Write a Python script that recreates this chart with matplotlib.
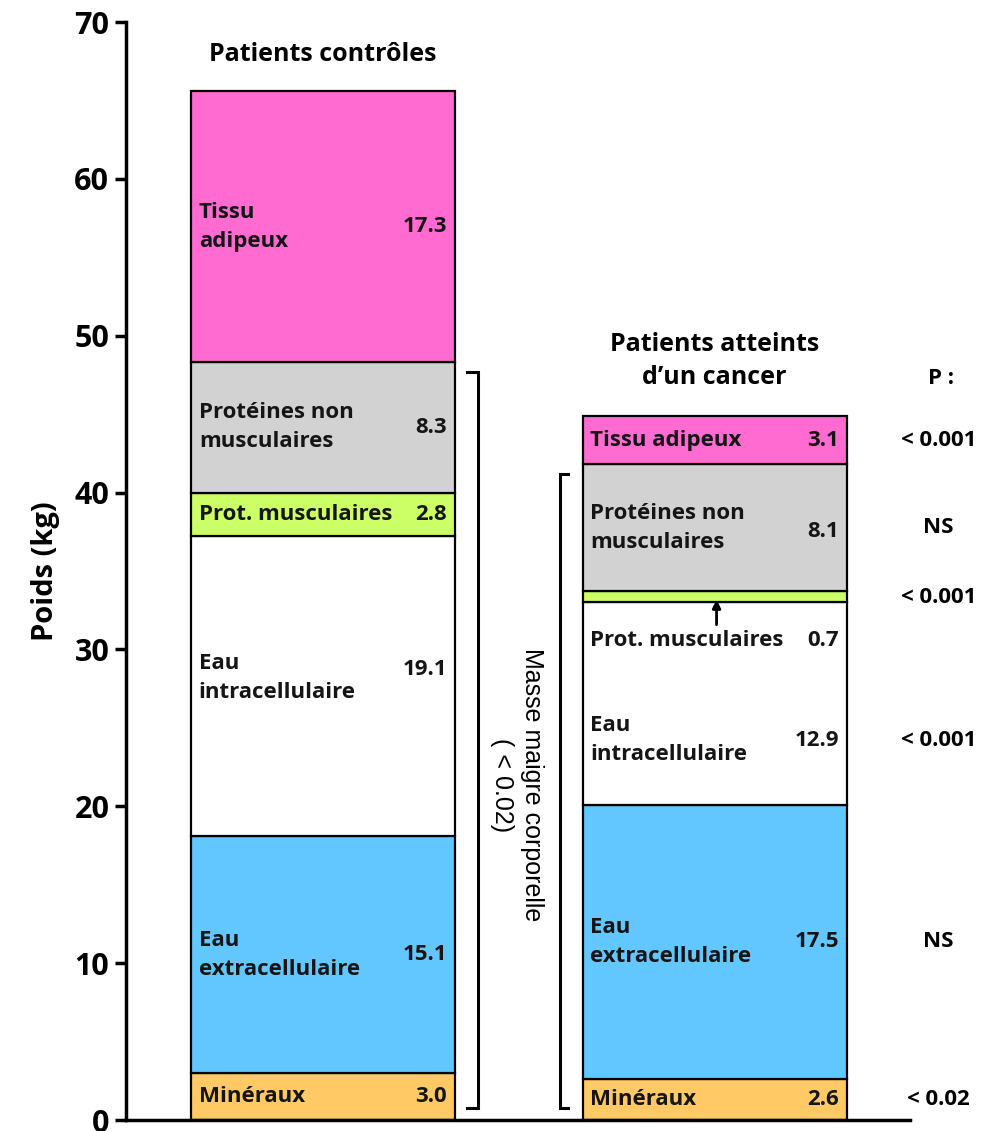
import numpy as np
import matplotlib.pyplot as plt

# composition corporelle (kg), du bas vers le haut
components = ['Minéraux', 'Eau extracellulaire', 'Eau intracellulaire',
              'Prot. musculaires', 'Protéines non musculaires', 'Tissu adipeux']
controls = [3.0, 15.1, 19.1, 2.8, 8.3, 17.3]
cancer = [2.6, 17.5, 12.9, 0.7, 8.1, 3.1]
colors = ['#FFC966', '#62C6FF', '#FFFFFF', '#CCFF66', '#D2D2D2', '#FF6BD0']

# libellés affichés dans chaque barre
labels_ctrl = ['Minéraux', 'Eau\nextracellulaire', 'Eau\nintracellulaire',
               'Prot. musculaires', 'Protéines non\nmusculaires', 'Tissu\nadipeux']
labels_canc = ['Minéraux', 'Eau\nextracellulaire', 'Eau\nintracellulaire',
               'Prot. musculaires', 'Protéines non\nmusculaires', 'Tissu adipeux']
p_values = ['< 0.02', 'NS', '< 0.001', '< 0.001', 'NS', '< 0.001']

bar_x = [0, 1]
yticks = [0, 10, 20, 30, 40, 50, 60, 70]

FONT = ['Open Sans', 'DejaVu Sans']
plt.rcParams['font.family'] = FONT

fig = plt.figure(figsize=(9.86, 11.31), dpi=100)
ax = fig.add_axes([126 / 986, 11 / 1131, 860 / 986, 1098 / 1131])

width = 0.674
off = 0.02
fs = 16
for xi, vals, labs in [(bar_x[0], controls, labels_ctrl), (bar_x[1], cancer, labels_canc)]:
    bottoms = np.concatenate([[0], np.cumsum(vals)[:-1]])
    ax.bar([xi] * len(vals), vals, width=width, bottom=bottoms, color=colors,
           edgecolor='black', linewidth=1.6, zorder=2)
    for i, (v, b, lab) in enumerate(zip(vals, bottoms, labs)):
        yc = b + v / 2
        ly, vy = yc, yc
        if xi == 0 and i == 2:
            ly, vy = yc + 0.5, yc + 1.1
        if xi == 1 and i == 2:
            ly, vy = 24.2, 24.2
        if xi == 1 and i == 4:
            vy = yc - 0.25
        if xi == 1 and i == 3:
            # bande trop fine : texte sous la bande avec une flèche
            ly = vy = 30.6
            ax.annotate('', xy=(xi + 0.005, b + v / 2), xytext=(xi + 0.005, 31.4),
                        arrowprops=dict(arrowstyle='-|>', color='black', lw=2,
                                        mutation_scale=12), zorder=4)
        ax.text(xi - width / 2 + off, ly, lab, ha='left', va='center', fontsize=fs,
                fontweight='bold', color='#151515', linespacing=1.5, zorder=3)
        ax.text(xi + width / 2 - off, vy, f'{v:.1f}', ha='right', va='center', fontsize=fs,
                fontweight='bold', color='#151515', zorder=3)

# colonne des P
canc_bottoms = np.concatenate([[0], np.cumsum(cancer)[:-1]])
p_y = [canc_bottoms[0] + cancer[0] / 2, canc_bottoms[1] + cancer[1] / 2, 24.2,
       canc_bottoms[3] + cancer[3] / 2 - 0.05, canc_bottoms[4] + cancer[4] / 2,
       canc_bottoms[5] + cancer[5] / 2]
ax.text(1.578, 47.3, 'P :', ha='center', va='center', fontsize=fs, fontweight='bold')
for py, pv in zip(p_y, p_values):
    ax.text(1.572, py, pv, ha='center', va='center', fontsize=fs, fontweight='bold')

# crochets masse maigre
lean_ctrl = sum(controls[:5])
lean_canc = sum(cancer[:5])
ax.plot([0.368, 0.396, 0.396, 0.368], [lean_ctrl - 0.6, lean_ctrl - 0.6, 0.76, 0.76],
        color='black', lw=2.2, solid_joinstyle='miter')
ax.plot([0.626, 0.605, 0.605, 0.626], [lean_canc - 0.6, lean_canc - 0.6, 0.76, 0.76],
        color='black', lw=2.2, solid_joinstyle='miter')
ax.text(0.495, 21.35, 'Masse maigre corporelle\n( < 0.02)', rotation=-90,
        ha='center', va='center', fontsize=18, family=['Liberation Sans', 'DejaVu Sans'],
        linespacing=1.3)

# titres des barres
ax.text(bar_x[0], 67.9, 'Patients contrôles', ha='center', va='center',
        fontsize=18, fontweight='bold')
ax.text(bar_x[1], 48.4, 'Patients atteints\nd\u2019un cancer', ha='center', va='center',
        fontsize=18, fontweight='bold', linespacing=1.45)

ax.set_ylim(0, 70)
ax.set_xlim(-0.503, 1.693)
ax.set_yticks(yticks)
ax.set_xticks([])
ax.tick_params(axis='y', length=8, width=2.5, labelsize=22, pad=4)
for t in ax.get_yticklabels():
    t.set_fontweight('bold')
ax.set_ylabel('Poids (kg)', fontsize=21, fontweight='bold', labelpad=10)
ax.spines['top'].set_visible(False)
ax.spines['right'].set_visible(False)
ax.spines['left'].set_linewidth(2.5)
ax.spines['bottom'].set_linewidth(2.5)
ax.spines['bottom'].set_bounds(-0.503, 1.5)
ax.spines['left'].set_zorder(5)
ax.spines['bottom'].set_zorder(5)

fig.savefig('out.png', dpi=100)
